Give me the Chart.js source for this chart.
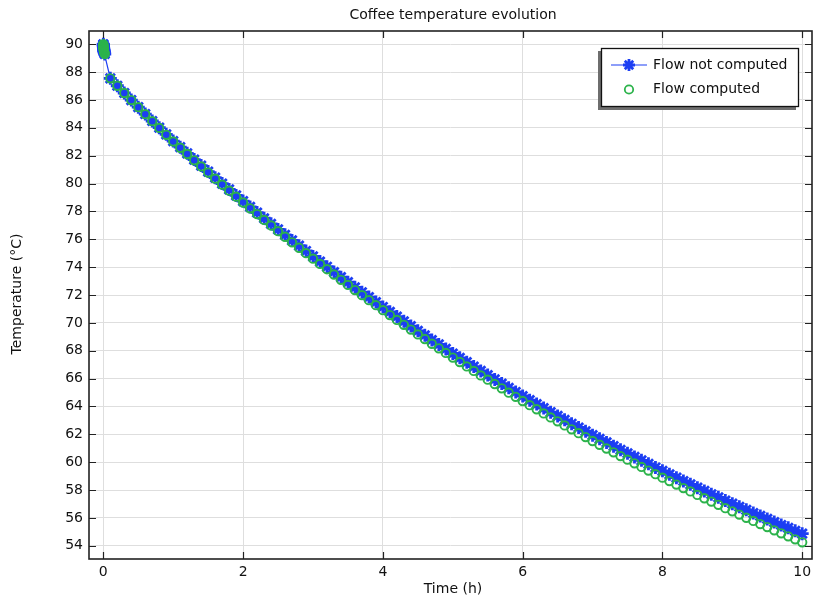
<!DOCTYPE html>
<html>
<head>
<meta charset="utf-8">
<title>Coffee temperature evolution</title>
<script src="https://cdn.jsdelivr.net/npm/chart.js@4.4.1/dist/chart.umd.min.js"></script>
<style>
  html, body { margin: 0; padding: 0; background: #fff; }
  #coffeeChart { display: block; }
</style>
</head>
<body>
<canvas id="coffeeChart" width="813" height="602"></canvas>
<script>
// first solver steps, all bunched up right at t = 0
var startHours = [0, 0.0005, 0.001, 0.0015, 0.002, 0.003, 0.004, 0.005, 0.006, 0.008, 0.01, 0.012, 0.015, 0.02];
var startTemps = [90, 89.95, 89.9, 89.85, 89.8, 89.75, 89.7, 89.65, 89.6, 89.55, 89.5, 89.45, 89.4, 89.3];

// then one stored sample every 0.1 h
var hours = [
  0.1, 0.2, 0.3, 0.4, 0.5, 0.6, 0.7, 0.8, 0.9, 1.0,
  1.1, 1.2, 1.3, 1.4, 1.5, 1.6, 1.7, 1.8, 1.9, 2.0,
  2.1, 2.2, 2.3, 2.4, 2.5, 2.6, 2.7, 2.8, 2.9, 3.0,
  3.1, 3.2, 3.3, 3.4, 3.5, 3.6, 3.7, 3.8, 3.9, 4.0,
  4.1, 4.2, 4.3, 4.4, 4.5, 4.6, 4.7, 4.8, 4.9, 5.0,
  5.1, 5.2, 5.3, 5.4, 5.5, 5.6, 5.7, 5.8, 5.9, 6.0,
  6.1, 6.2, 6.3, 6.4, 6.5, 6.6, 6.7, 6.8, 6.9, 7.0,
  7.1, 7.2, 7.3, 7.4, 7.5, 7.6, 7.7, 7.8, 7.9, 8.0,
  8.1, 8.2, 8.3, 8.4, 8.5, 8.6, 8.7, 8.8, 8.9, 9.0,
  9.1, 9.2, 9.3, 9.4, 9.5, 9.6, 9.7, 9.8, 9.9, 10.0
];

var tempNoFlow = [
  87.55, 87.02, 86.50, 85.99, 85.48, 84.99, 84.49, 84.01, 83.53, 83.05,
  82.61, 82.17, 81.72, 81.29, 80.86, 80.42, 80.00, 79.58, 79.15, 78.74,
  78.32, 77.92, 77.51, 77.11, 76.71, 76.32, 75.92, 75.54, 75.16, 74.77,
  74.40, 74.03, 73.65, 73.28, 72.92, 72.55, 72.20, 71.85, 71.49, 71.14,
  70.79, 70.45, 70.11, 69.77, 69.43, 69.11, 68.77, 68.45, 68.13, 67.80,
  67.49, 67.18, 66.86, 66.55, 66.25, 65.94, 65.64, 65.34, 65.04, 64.75,
  64.45, 64.17, 63.88, 63.59, 63.32, 63.04, 62.76, 62.49, 62.22, 61.94,
  61.68, 61.42, 61.15, 60.89, 60.64, 60.38, 60.13, 59.88, 59.62, 59.38,
  59.13, 58.89, 58.65, 58.41, 58.17, 57.94, 57.70, 57.48, 57.25, 57.02,
  56.80, 56.58, 56.35, 56.14, 55.93, 55.70, 55.49, 55.29, 55.07, 54.87
];

var tempFlow = [
  87.55, 87.02, 86.50, 85.99, 85.48, 84.98, 84.48, 83.99, 83.50, 83.02,
  82.57, 82.12, 81.67, 81.23, 80.79, 80.35, 79.92, 79.49, 79.06, 78.64,
  78.22, 77.81, 77.39, 76.99, 76.58, 76.18, 75.78, 75.39, 75.00, 74.61,
  74.23, 73.85, 73.47, 73.09, 72.72, 72.35, 71.99, 71.63, 71.27, 70.91,
  70.56, 70.21, 69.86, 69.52, 69.17, 68.84, 68.50, 68.17, 67.84, 67.51,
  67.19, 66.87, 66.55, 66.23, 65.92, 65.61, 65.30, 64.99, 64.69, 64.39,
  64.09, 63.80, 63.50, 63.21, 62.93, 62.64, 62.36, 62.08, 61.80, 61.52,
  61.25, 60.98, 60.71, 60.44, 60.18, 59.92, 59.66, 59.40, 59.14, 58.89,
  58.64, 58.39, 58.14, 57.90, 57.65, 57.41, 57.17, 56.94, 56.70, 56.47,
  56.24, 56.01, 55.78, 55.56, 55.34, 55.11, 54.89, 54.68, 54.46, 54.25
];

var seriesNames = ['Flow not computed', 'Flow computed'];
var xTickValues = [0, 2, 4, 6, 8, 10];
var yTickValues = [54, 56, 58, 60, 62, 64, 66, 68, 70, 72, 74, 76, 78, 80, 82, 84, 86, 88, 90];

var BLUE = '#1c3ef3';
var GREEN = '#2cb34b';
var FONT = "'DejaVu Sans', sans-serif";

function toPoints(xs, ys) {
    var pts = [];
    for (var i = 0; i < xs.length; i++) {
        pts.push({ x: xs[i], y: ys[i] });
    }
    return pts;
}

function fixedTicks(values) {
    return function (scale) {
        scale.ticks = values.map(function (v) { return { value: v }; });
    };
}

// box around the plot with short inward ticks on all four sides
var frameTicks = {
    id: 'frameTicks',
    afterDatasetsDraw: function (chart) {
        var a = chart.chartArea;
        var ctx = chart.ctx;
        var xs = chart.scales.x;
        var ys = chart.scales.y;
        ctx.save();
        ctx.strokeStyle = '#222';
        ctx.lineWidth = 1.2;
        ctx.beginPath();
        xs.ticks.forEach(function (t) {
            var px = Math.round(xs.getPixelForValue(t.value)) + 0.5;
            ctx.moveTo(px, a.bottom);
            ctx.lineTo(px, a.bottom - 7);
            ctx.moveTo(px, a.top);
            ctx.lineTo(px, a.top + 7);
        });
        ys.ticks.forEach(function (t) {
            var py = Math.round(ys.getPixelForValue(t.value)) + 0.5;
            ctx.moveTo(a.left, py);
            ctx.lineTo(a.left + 7, py);
            ctx.moveTo(a.right, py);
            ctx.lineTo(a.right - 7, py);
        });
        ctx.stroke();
        ctx.lineWidth = 1.6;
        ctx.strokeRect(a.left, a.top, a.right - a.left, a.bottom - a.top);
        ctx.restore();
    }
};

// titles and the boxed legend with its grey drop shadow
var labelsAndLegend = {
    id: 'labelsAndLegend',
    afterDraw: function (chart) {
        var ctx = chart.ctx;
        ctx.save();
        ctx.fillStyle = '#111';
        ctx.font = '14px ' + FONT;
        ctx.textAlign = 'center';
        ctx.textBaseline = 'middle';
        ctx.fillText('Coffee temperature evolution', 453, 15);
        ctx.fillText('Time (h)', 453, 589);

        ctx.save();
        ctx.translate(17, 294);
        ctx.rotate(-Math.PI / 2);
        ctx.fillText('Temperature (°C)', 0, 0);
        ctx.restore();

        // legend box
        var bx = 601, by = 48, bw = 198, bh = 59;
        ctx.fillStyle = '#6e6e6e';
        ctx.fillRect(bx - 3, by + 3, bw, bh);
        ctx.fillStyle = '#fff';
        ctx.fillRect(bx, by, bw, bh);
        ctx.strokeStyle = '#111';
        ctx.lineWidth = 1.3;
        ctx.strokeRect(bx + 0.5, by + 0.5, bw - 1, bh - 1);

        // first entry: line with star marker
        ctx.strokeStyle = BLUE;
        ctx.lineWidth = 1.2;
        ctx.beginPath();
        ctx.moveTo(611, 65);
        ctx.lineTo(647, 65);
        ctx.stroke();
        ctx.lineWidth = 2.8;
        Chart.helpers.drawPoint(ctx, { pointStyle: 'star', radius: 6, rotation: 0, borderWidth: 2.8 }, 629, 65);

        // second entry: open circle
        ctx.strokeStyle = GREEN;
        ctx.lineWidth = 1.8;
        ctx.beginPath();
        ctx.arc(629, 89.5, 4.2, 0, Math.PI * 2);
        ctx.stroke();

        ctx.fillStyle = '#111';
        ctx.textAlign = 'left';
        ctx.fillText(seriesNames[0], 653, 65);
        ctx.fillText(seriesNames[1], 653, 89);
        ctx.restore();
    }
};

var ctx = document.getElementById('coffeeChart').getContext('2d');
var chart = new Chart(ctx, {
    type: 'scatter',
    data: {
        datasets: [{
            label: seriesNames[0],
            data: toPoints(startHours.concat(hours), startTemps.concat(tempNoFlow)),
            showLine: true,
            borderColor: BLUE,
            borderWidth: 1.2,
            pointStyle: 'star',
            pointRadius: 6.5,
            pointBorderWidth: 2.8,
            pointBorderColor: BLUE,
            pointBackgroundColor: BLUE,
            order: 2
        }, {
            label: seriesNames[1],
            data: toPoints(startHours.concat(hours), startTemps.concat(tempFlow)),
            showLine: false,
            pointStyle: 'circle',
            pointRadius: 4.2,
            pointBorderWidth: 1.9,
            pointBorderColor: GREEN,
            pointBackgroundColor: 'rgba(0,0,0,0)',
            order: 1
        }]
    },
    options: {
        responsive: false,
        animation: false,
        devicePixelRatio: 1,
        // no extra inset for the big markers, the plot box runs to the canvas edge
        layout: { autoPadding: false, padding: { top: 31, right: 1, bottom: 0, left: 0 } },
        plugins: {
            legend: { display: false },
            tooltip: { enabled: false },
            title: { display: false }
        },
        scales: {
            x: {
                type: 'linear',
                min: -0.205,
                max: 10.14,
                afterBuildTicks: fixedTicks(xTickValues),
                afterFit: function (scale) {
                    scale.height = 43;
                    scale.paddingLeft = 0;
                    scale.paddingRight = 0;
                },
                grid: { color: '#dedede', lineWidth: 1, drawTicks: false },
                border: { display: false },
                ticks: { padding: 5, color: '#111', font: { family: FONT, size: 14 } }
            },
            y: {
                type: 'linear',
                min: 53.05,
                max: 90.95,
                afterBuildTicks: fixedTicks(yTickValues),
                afterFit: function (scale) {
                    scale.width = 89;
                    scale.paddingTop = 0;
                    scale.paddingBottom = 0;
                },
                grid: { color: '#dedede', lineWidth: 1, drawTicks: false },
                border: { display: false },
                ticks: { padding: 6, color: '#111', font: { family: FONT, size: 14 } }
            }
        }
    },
    plugins: [frameTicks, labelsAndLegend]
});
</script>
</body>
</html>
